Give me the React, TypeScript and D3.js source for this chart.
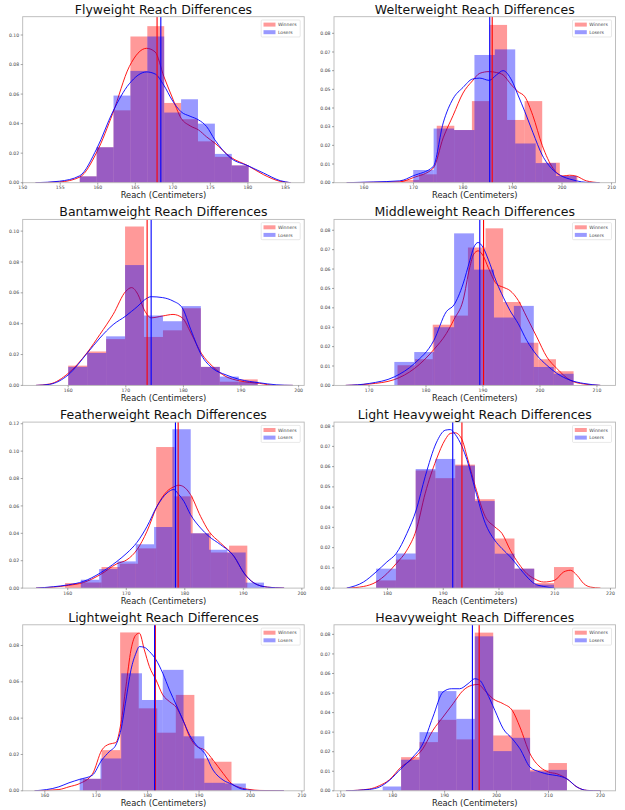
import React from "react";
import * as d3 from "d3";

// ---------- DATA ----------
const weightClasses = [
  "Flyweight", "Welterweight", "Bantamweight", "Middleweight",
  "Featherweight", "Light Heavyweight", "Lightweight", "Heavyweight",
];
const seriesNames = ["Winners", "Losers"];

const xDomains = [
  [150, 187.5], [153.95, 210.8], [152.1, 200.97], [163.85, 213.26],
  [152.3, 200.4], [170.4, 220.9], [155.7, 210.45], [168.7, 222.9],
];
const yMaxes = [0.1124, 0.0889, 0.1076, 0.0856, 0.1212, 0.082, 0.0914, 0.0849];
const xTicks = [
  [150, 155, 160, 165, 170, 175, 180, 185],
  [160, 170, 180, 190, 200, 210],
  [160, 170, 180, 190, 200],
  [170, 180, 190, 200, 210],
  [160, 170, 180, 190, 200],
  [180, 190, 200, 210, 220],
  [160, 170, 180, 190, 200, 210],
  [170, 180, 190, 200, 210, 220],
];
const yTicks = [
  [0, 0.02, 0.04, 0.06, 0.08, 0.1],
  [0, 0.01, 0.02, 0.03, 0.04, 0.05, 0.06, 0.07, 0.08],
  [0, 0.02, 0.04, 0.06, 0.08, 0.1],
  [0, 0.01, 0.02, 0.03, 0.04, 0.05, 0.06, 0.07, 0.08],
  [0, 0.02, 0.04, 0.06, 0.08, 0.1, 0.12],
  [0, 0.01, 0.02, 0.03, 0.04, 0.05, 0.06, 0.07, 0.08],
  [0, 0.02, 0.04, 0.06, 0.08],
  [0, 0.01, 0.02, 0.03, 0.04, 0.05, 0.06, 0.07, 0.08],
];

// histogram bins (start, width) and densities
const winnerBinStart = [157.6, 167.6, 160.0, 175.0, 159.54, 177.96, 167.43, 178.07];
const winnerBinWidth = [2.25, 3.55, 3.29, 3.09, 3.114, 3.545, 3.61, 3.548];
const winnerHeights = [
  [0.0043, 0.024, 0.049, 0.099, 0.106, 0.054, 0.043, 0.028, 0.0175, 0.0117],
  [0.0015, 0.0045, 0.0305, 0.0282, 0.0437, 0.0845, 0.0336, 0.0437, 0.0107, 0.0036],
  [0.0128, 0.022, 0.03, 0.103, 0.0314, 0.0357, 0.05, 0.012, 0.0024, 0.0039],
  [0.0104, 0.0135, 0.0313, 0.036, 0.0711, 0.081, 0.043, 0.022, 0.0135, 0.0073],
  [0.0037, 0.0041, 0.0154, 0.0178, 0.029, 0.103, 0.067, 0.04, 0.026, 0.031],
  [0.0038, 0.0141, 0.0581, 0.0543, 0.061, 0.0439, 0.0245, 0.0096, 0.0025, 0.0104],
  [0.0066, 0.0224, 0.0872, 0.0454, 0.032, 0.0528, 0.0178, 0.016],
  [0, 0.0172, 0.0249, 0.0363, 0.0263, 0.0809, 0.0283, 0.0415, 0.0107, 0.0142],
];
const loserBinStart = [157.6, 169.95, 160.0, 174.44, 162.23, 177.96, 166.78, 178.07];
const loserBinWidth = [2.25, 4.12, 3.29, 3.497, 3.13, 3.545, 4.04, 3.548];
const loserHeights = [
  [0.0043, 0.024, 0.059, 0.0757, 0.099, 0.0475, 0.0565, 0.04, 0.0195, 0.0117],
  [0.0068, 0.029, 0.0282, 0.0684, 0.0714, 0.021, 0.0105, 0.0036],
  [0.012, 0.021, 0.0318, 0.078, 0.0453, 0.0416, 0.0514, 0.012, 0.0057, 0.0024],
  [0.0121, 0.0172, 0.03, 0.0784, 0.0597, 0.035, 0.041, 0.0095, 0.006],
  [0.0061, 0.0139, 0.0195, 0.032, 0.0446, 0.116, 0.04, 0.028, 0.026, 0.004],
  [0.0096, 0.0171, 0.0588, 0.0638, 0.0605, 0.043, 0.017, 0.0096, 0.0017, 0],
  [0.0066, 0.0178, 0.0647, 0.05, 0.0666, 0.03, 0.0044, 0.004],
  [0.0022, 0.0159, 0.03, 0.051, 0.0368, 0.079, 0.0203, 0.0271, 0.0099, 0.0107],
];

const winnerMeans = [167.9, 185.9, 173.7, 190.1, 178.86, 193.35, 181.5, 196.65];
const loserMeans = [168.4, 185.4, 174.4, 189.44, 178.4, 191.7, 181.35, 195.35];

// KDE curves
const flyKdeX = [151.7, 154.9, 157.6, 159.9, 162.0, 164.2, 166.5, 167.65, 168.8, 169.9, 171.1, 172.3, 173.4, 174.5, 175.6, 177.7, 180.0, 182.1, 184.3, 185.7];
const flyWinKde = [0, 0.0005, 0.0038, 0.021, 0.047, 0.0786, 0.091, 0.0885, 0.072, 0.058, 0.0437, 0.0385, 0.0358, 0.031, 0.0268, 0.0173, 0.0115, 0.0054, 0.0009, 0];
const flyLoseKde = [0, 0.001, 0.0047, 0.0234, 0.048, 0.067, 0.075, 0.0736, 0.066, 0.056, 0.048, 0.045, 0.0426, 0.038, 0.029, 0.0167, 0.0115, 0.0065, 0.0014, 0];

const welterKdeX = [156.5, 162, 167.26, 169.95, 173.98, 176.0, 178.0, 180.0, 181.9, 183.4, 185.3, 186.75, 188.1, 189.8, 191.1, 192.5, 194.1, 196.0, 198.2, 200.2, 201.5, 202.9, 204.9, 207.6];
const welterWinKde = [0, 0.0002, 0.0005, 0.0027, 0.0077, 0.024, 0.036, 0.048, 0.0545, 0.0586, 0.0595, 0.059, 0.0577, 0.0523, 0.0488, 0.046, 0.036, 0.02, 0.0077, 0.0036, 0.004, 0.0035, 0.001, 0];
const welterLoseKde = [0, 0.0004, 0.001, 0.0037, 0.0086, 0.032, 0.045, 0.051, 0.0555, 0.056, 0.0548, 0.0577, 0.06, 0.055, 0.047, 0.038, 0.027, 0.0148, 0.0068, 0.0032, 0.002, 0.001, 0.0002, 0];

const bantamKdeX = [154.4, 156.8, 160, 163.3, 165.5, 167.8, 170, 171, 172.1, 173.2, 174.4, 176.4, 178.2, 179.8, 181.3, 183.1, 185.1, 187.4, 189.7, 193.2, 196.1, 199];
const bantamWinKde = [0, 0.0009, 0.0078, 0.0213, 0.033, 0.046, 0.061, 0.0634, 0.059, 0.049, 0.0438, 0.045, 0.046, 0.0438, 0.034, 0.0209, 0.0122, 0.0057, 0.003, 0.0013, 0, 0];
const bantamLoseKde = [0, 0.0007, 0.0068, 0.0209, 0.0307, 0.0394, 0.045, 0.048, 0.0514, 0.0553, 0.0575, 0.0569, 0.0547, 0.0503, 0.036, 0.0198, 0.011, 0.0068, 0.0039, 0.0017, 0.0004, 0];

const middleKdeX = [165.9, 170.03, 174.44, 177.97, 181.38, 183.56, 184.91, 186.5, 187.68, 188.38, 189.15, 190.03, 190.91, 192.38, 193.56, 194.74, 196.2, 197.68, 199.44, 201.2, 202.97, 205.3, 207.7, 210.6];
const middleWinKde = [0, 0.0007, 0.003, 0.0087, 0.0185, 0.0267, 0.034, 0.0438, 0.0609, 0.0677, 0.0694, 0.0668, 0.0609, 0.0523, 0.0506, 0.0489, 0.0438, 0.0352, 0.025, 0.0147, 0.0087, 0.0027, 0.0007, 0];
const middleLoseKde = [0, 0.001, 0.0044, 0.0113, 0.0232, 0.038, 0.0415, 0.0523, 0.0643, 0.0711, 0.0737, 0.071, 0.0651, 0.0532, 0.0455, 0.0386, 0.0318, 0.0232, 0.0156, 0.0104, 0.0062, 0.0027, 0.001, 0];

const featherKdeX = [154.57, 157.54, 160.11, 162.69, 165.54, 168.4, 170.11, 171.83, 173.54, 175.26, 176.97, 178.11, 178.97, 179.83, 180.97, 182.69, 184.11, 186.11, 188.4, 190.11, 191.83, 194.11, 196.97];
const featherWinKde = [0, 0.0007, 0.002, 0.0041, 0.0098, 0.0178, 0.0207, 0.028, 0.0415, 0.0598, 0.0707, 0.0739, 0.0751, 0.0739, 0.0683, 0.0524, 0.0415, 0.0329, 0.0232, 0.011, 0.0037, 0.0007, 0];
const featherLoseKde = [0, 0.001, 0.0024, 0.0049, 0.011, 0.0195, 0.0256, 0.0334, 0.045, 0.0598, 0.0695, 0.072, 0.0683, 0.0634, 0.0537, 0.0439, 0.0378, 0.0317, 0.0232, 0.011, 0.0037, 0.0007, 0];

const lightHeavyKdeX = [172.69, 175.69, 177.96, 179.88, 181.56, 183.47, 185.15, 186.77, 188.74, 190.36, 191.26, 192.16, 193.35, 194.25, 195.75, 197.54, 199.22, 200.54, 202.04, 203.53, 205.03, 206.35, 208.02, 209.94, 211.62, 212.81, 214.0, 215.21, 216.41, 218.2];
const lightHeavyWinKde = [0, 0.0008, 0.003, 0.0071, 0.0121, 0.0187, 0.0287, 0.0469, 0.0634, 0.0734, 0.0764, 0.0767, 0.0734, 0.0651, 0.0502, 0.0353, 0.0303, 0.027, 0.0187, 0.0121, 0.0071, 0.0046, 0.003, 0.0038, 0.008, 0.0088, 0.0063, 0.0022, 0.0005, 0];
const lightHeavyLoseX = [172.69, 175.69, 177.96, 179.88, 181.56, 183.47, 185.15, 186.77, 188.74, 190.36, 191.26, 192.16, 193.35, 194.25, 195.75, 197.54, 199.22, 200.54, 202.04, 203.53, 205.03, 206.35, 208.02, 209.94];
const lightHeavyLoseKde = [0, 0.003, 0.008, 0.0129, 0.0171, 0.027, 0.0386, 0.0552, 0.0717, 0.078, 0.0783, 0.0759, 0.07, 0.0634, 0.0485, 0.032, 0.0237, 0.0195, 0.0154, 0.0104, 0.0055, 0.0022, 0.0008, 0];

const lightKdeX = [158, 162.74, 164.7, 166.78, 169.26, 171.08, 172.52, 173.82, 174.8, 175.78, 176.76, 177.73, 178.39, 179.36, 180.34, 181.64, 182.95, 184.25, 185.56, 186.86, 188.16, 189.47, 191.1, 192.73, 194.68, 196.31, 197.94, 199.9, 201.85, 206.5];
const lightWinKde = [0, 0.0007, 0.0022, 0.004, 0.0092, 0.0224, 0.0257, 0.0265, 0.0371, 0.0574, 0.0776, 0.0859, 0.0868, 0.0776, 0.0684, 0.061, 0.0528, 0.0491, 0.046, 0.039, 0.0298, 0.0246, 0.0224, 0.0169, 0.0096, 0.004, 0.0018, 0.0007, 0.0002, 0];
const lightLoseKde = [0, 0.0022, 0.0044, 0.0063, 0.0086, 0.0169, 0.0215, 0.0252, 0.0335, 0.05, 0.0666, 0.0758, 0.0794, 0.079, 0.0767, 0.0721, 0.0647, 0.0555, 0.0473, 0.039, 0.0307, 0.0252, 0.0206, 0.0114, 0.0059, 0.0037, 0.0013, 0.0003, 0, 0];

const heavyWinX = [171.0, 175.5, 177.42, 179.35, 181.6, 183.87, 185.8, 187.74, 189.68, 191.61, 193.55, 195.16, 196.45, 197.74, 199.35, 201.29, 203.03, 204.5, 206.45, 208.4, 210.0, 211.6, 213.55, 215.5, 217.4, 220.0];
const heavyWinKde = [0, 0.0009, 0.0026, 0.0056, 0.0121, 0.0164, 0.0215, 0.0309, 0.0377, 0.0445, 0.0513, 0.0539, 0.0544, 0.0513, 0.047, 0.0445, 0.0411, 0.0326, 0.0189, 0.0121, 0.0096, 0.0087, 0.0061, 0.0019, 0.0002, 0];
const heavyLoseX = [171.0, 175.5, 177.42, 179.35, 181.6, 183.87, 185.8, 187.74, 189.68, 191.29, 192.9, 194.52, 195.8, 196.77, 198.06, 199.68, 201.29, 203.03, 204.5, 206.45, 208.4, 210.0, 211.6, 213.55, 215.5, 217.4, 220.0];
const heavyLoseKde = [0, 0.0007, 0.0019, 0.0053, 0.0113, 0.0172, 0.024, 0.0377, 0.0505, 0.0522, 0.0522, 0.0548, 0.0573, 0.0565, 0.0505, 0.0411, 0.0317, 0.0266, 0.0215, 0.0121, 0.0096, 0.0084, 0.0078, 0.0061, 0.0019, 0.0002, 0];

const winnerKdeX = [flyKdeX, welterKdeX, bantamKdeX, middleKdeX, featherKdeX, lightHeavyKdeX, lightKdeX, heavyWinX];
const winnerKdeY = [flyWinKde, welterWinKde, bantamWinKde, middleWinKde, featherWinKde, lightHeavyWinKde, lightWinKde, heavyWinKde];
const loserKdeX = [flyKdeX, welterKdeX, bantamKdeX, middleKdeX, featherKdeX, lightHeavyLoseX, lightKdeX, heavyLoseX];
const loserKdeY = [flyLoseKde, welterLoseKde, bantamLoseKde, middleLoseKde, featherLoseKde, lightHeavyLoseKde, lightLoseKde, heavyLoseKde];

// ---------- LAYOUT ----------
const W = 625;
const H = 810;
const colLeft = [22.7, 334];
const axW = 281.5;
const axH = 166;
const rowTop = (r: number) => 16.7 + 202.7 * r;
const FONT = "DejaVu Sans, Verdana, sans-serif";
const RED = "#ff0000";
const BLUE = "#0000ff";
const ALPHA = 0.4;

function Panel({ i }: { i: number }) {
  const col = i % 2;
  const row = Math.floor(i / 2);
  const left = colLeft[col];
  const top = rowTop(row);
  const right = left + axW;
  const bottom = top + axH;

  const xs = d3.scaleLinear().domain(xDomains[i]).range([left, right]);
  const ys = d3.scaleLinear().domain([0, yMaxes[i]]).range([bottom, top]);
  const line = d3
    .line<[number, number]>()
    .x((d) => xs(d[0]))
    .y((d) => ys(d[1]))
    .curve(d3.curveMonotoneX);

  const bars = (start: number, width: number, heights: number[], color: string, key: string) =>
    heights.map((h, k) => {
      const x0 = xs(start + k * width);
      const x1 = xs(start + (k + 1) * width);
      if (h <= 0) return null;
      return (
        <rect
          key={key + k}
          x={x0}
          y={ys(h)}
          width={x1 - x0}
          height={ys(0) - ys(h)}
          fill={color}
          fillOpacity={ALPHA}
        />
      );
    });

  const winPts = winnerKdeX[i].map((x, k) => [x, winnerKdeY[i][k]] as [number, number]);
  const losePts = loserKdeX[i].map((x, k) => [x, loserKdeY[i][k]] as [number, number]);
  const clipId = `clip${i}`;
  const fmtY = d3.format(".2f");
  const lx = right - 43;
  const ly = top + 3.3;

  return (
    <g>
      <defs>
        <clipPath id={clipId}>
          <rect x={left} y={top} width={axW} height={axH} />
        </clipPath>
      </defs>
      <g clipPath={`url(#${clipId})`}>
        {bars(winnerBinStart[i], winnerBinWidth[i], winnerHeights[i], RED, "w")}
        <path d={line(winPts) || ""} fill="none" stroke={RED} strokeWidth={0.9} />
        {bars(loserBinStart[i], loserBinWidth[i], loserHeights[i], BLUE, "l")}
        <path d={line(losePts) || ""} fill="none" stroke={BLUE} strokeWidth={0.9} />
        <line x1={xs(winnerMeans[i])} x2={xs(winnerMeans[i])} y1={top} y2={bottom} stroke={RED} strokeWidth={1.1} />
        <line x1={xs(loserMeans[i])} x2={xs(loserMeans[i])} y1={top} y2={bottom} stroke={BLUE} strokeWidth={1.1} />
      </g>
      <rect x={left} y={top} width={axW} height={axH} fill="none" stroke="#b8b8b8" strokeWidth={0.9} />
      {xTicks[i].map((t) => (
        <g key={"xt" + t}>
          <line x1={xs(t)} x2={xs(t)} y1={bottom} y2={bottom + 2} stroke="#666" strokeWidth={0.6} />
          <text x={xs(t)} y={bottom + 6.6} fontSize={4.6} fill="#444" textAnchor="middle" fontFamily={FONT}>
            {t}
          </text>
        </g>
      ))}
      {yTicks[i].map((t) => (
        <g key={"yt" + t}>
          <line x1={left - 2} x2={left} y1={ys(t)} y2={ys(t)} stroke="#666" strokeWidth={0.6} />
          <text x={left - 3.5} y={ys(t) + 1.6} fontSize={4.6} fill="#444" textAnchor="end" fontFamily={FONT}>
            {fmtY(t)}
          </text>
        </g>
      ))}
      <text x={(left + right) / 2} y={top - 3} fontSize={12.5} fill="#111" textAnchor="middle" fontFamily={FONT}>
        {weightClasses[i] + " Reach Differences"}
      </text>
      <text x={(left + right) / 2} y={bottom + 15.5} fontSize={8.3} fill="#222" textAnchor="middle" fontFamily={FONT}>
        Reach (Centimeters)
      </text>
      <rect x={lx} y={ly} width={39} height={17} rx={1} fill="#fff" fillOpacity={0.8} stroke="#d8d8d8" strokeWidth={0.6} />
      {seriesNames.map((name, k) => (
        <g key={name}>
          <rect x={lx + 2.3} y={ly + 2.6 + k * 7.6} width={12} height={4} fill={k === 0 ? RED : BLUE} fillOpacity={ALPHA} />
          <text x={lx + 16.7} y={ly + 6.2 + k * 7.6} fontSize={4.6} fill="#444" fontFamily={FONT}>
            {name}
          </text>
        </g>
      ))}
    </g>
  );
}

export default function App() {
  return (
    <svg
      width={W}
      height={H}
      viewBox={`0 0 ${W} ${H}`}
      style={{ position: "absolute", left: 0, top: 0, background: "#fff" }}
    >
      <rect x={0} y={0} width={W} height={H} fill="#fff" />
      {weightClasses.map((_, i) => (
        <Panel key={i} i={i} />
      ))}
    </svg>
  );
}
